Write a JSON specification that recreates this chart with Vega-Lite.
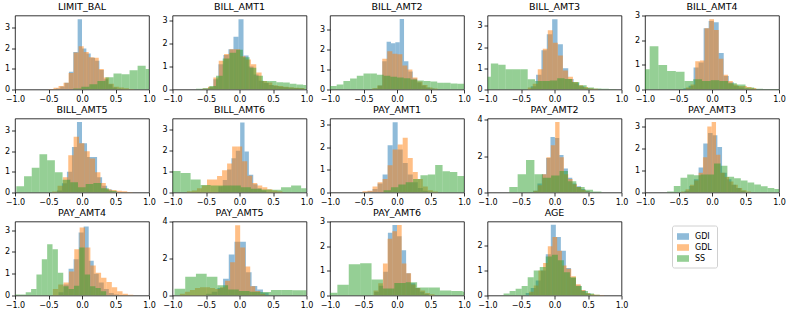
{
"$schema": "https://vega.github.io/schema/vega-lite/v6.json",
"padding": {"left": 4, "top": 1.5, "right": 5, "bottom": 5},
"background": "white",
"columns": 5,
"spacing": {"row": 29, "column": 23.5},
"bounds": "flush",
"data": {"values": [
{"p":1,"s":"GDI","a":-0.39,"b":-0.325,"d":0.05},{"p":1,"s":"GDI","a":-0.325,"b":-0.26,"d":0.15},{"p":1,"s":"GDI","a":-0.26,"b":-0.195,"d":0.33},{"p":1,"s":"GDI","a":-0.195,"b":-0.13,"d":0.86},{"p":1,"s":"GDI","a":-0.13,"b":-0.065,"d":1.82},{"p":1,"s":"GDI","a":-0.065,"b":0,"d":3.42},{"p":1,"s":"GDI","a":0,"b":0.065,"d":2.0},{"p":1,"s":"GDI","a":0.065,"b":0.13,"d":1.75},{"p":1,"s":"GDI","a":0.13,"b":0.195,"d":1.55},{"p":1,"s":"GDI","a":0.195,"b":0.26,"d":1.4},{"p":1,"s":"GDI","a":0.26,"b":0.325,"d":0.95},{"p":1,"s":"GDI","a":0.325,"b":0.39,"d":0.5},{"p":1,"s":"GDI","a":0.39,"b":0.455,"d":0.25},{"p":1,"s":"GDI","a":0.455,"b":0.52,"d":0.1},{"p":1,"s":"GDI","a":0.52,"b":0.585,"d":0.04},
{"p":1,"s":"GDL","a":-0.5,"b":-0.425,"d":0.03},{"p":1,"s":"GDL","a":-0.425,"b":-0.35,"d":0.08},{"p":1,"s":"GDL","a":-0.35,"b":-0.275,"d":0.17},{"p":1,"s":"GDL","a":-0.275,"b":-0.2,"d":0.33},{"p":1,"s":"GDL","a":-0.2,"b":-0.125,"d":0.8},{"p":1,"s":"GDL","a":-0.125,"b":-0.05,"d":1.8},{"p":1,"s":"GDL","a":-0.05,"b":0.025,"d":2.1},{"p":1,"s":"GDL","a":0.025,"b":0.1,"d":1.82},{"p":1,"s":"GDL","a":0.1,"b":0.175,"d":1.57},{"p":1,"s":"GDL","a":0.175,"b":0.25,"d":1.54},{"p":1,"s":"GDL","a":0.25,"b":0.325,"d":1.0},{"p":1,"s":"GDL","a":0.325,"b":0.4,"d":0.58},{"p":1,"s":"GDL","a":0.4,"b":0.475,"d":0.28},{"p":1,"s":"GDL","a":0.475,"b":0.55,"d":0.13},{"p":1,"s":"GDL","a":0.55,"b":0.625,"d":0.1},{"p":1,"s":"GDL","a":0.625,"b":0.7,"d":0.06},{"p":1,"s":"GDL","a":0.7,"b":0.775,"d":0.03},
{"p":1,"s":"SS","a":-0.13,"b":-0.01,"d":0.05},{"p":1,"s":"SS","a":-0.01,"b":0.11,"d":0.13},{"p":1,"s":"SS","a":0.11,"b":0.23,"d":0.25},{"p":1,"s":"SS","a":0.23,"b":0.35,"d":0.41},{"p":1,"s":"SS","a":0.35,"b":0.47,"d":0.6},{"p":1,"s":"SS","a":0.47,"b":0.59,"d":0.78},{"p":1,"s":"SS","a":0.59,"b":0.71,"d":0.74},{"p":1,"s":"SS","a":0.71,"b":0.83,"d":0.94},{"p":1,"s":"SS","a":0.83,"b":0.95,"d":1.16},{"p":1,"s":"SS","a":0.95,"b":1.0,"d":1.0},

{"p":2,"s":"GDI","a":-0.54,"b":-0.465,"d":0.03},{"p":2,"s":"GDI","a":-0.465,"b":-0.39,"d":0.1},{"p":2,"s":"GDI","a":-0.39,"b":-0.315,"d":0.45},{"p":2,"s":"GDI","a":-0.315,"b":-0.24,"d":1.1},{"p":2,"s":"GDI","a":-0.24,"b":-0.165,"d":1.5},{"p":2,"s":"GDI","a":-0.165,"b":-0.09,"d":1.75},{"p":2,"s":"GDI","a":-0.09,"b":-0.015,"d":2.29},{"p":2,"s":"GDI","a":-0.015,"b":0.06,"d":3.06},{"p":2,"s":"GDI","a":0.06,"b":0.135,"d":1.48},{"p":2,"s":"GDI","a":0.135,"b":0.21,"d":1.0},{"p":2,"s":"GDI","a":0.21,"b":0.285,"d":0.65},{"p":2,"s":"GDI","a":0.285,"b":0.36,"d":0.38},{"p":2,"s":"GDI","a":0.36,"b":0.435,"d":0.28},{"p":2,"s":"GDI","a":0.435,"b":0.51,"d":0.2},{"p":2,"s":"GDI","a":0.51,"b":0.585,"d":0.15},{"p":2,"s":"GDI","a":0.585,"b":0.66,"d":0.12},{"p":2,"s":"GDI","a":0.66,"b":0.735,"d":0.1},{"p":2,"s":"GDI","a":0.735,"b":0.81,"d":0.08},{"p":2,"s":"GDI","a":0.81,"b":0.885,"d":0.06},{"p":2,"s":"GDI","a":0.885,"b":0.96,"d":0.05},
{"p":2,"s":"GDL","a":-0.55,"b":-0.47,"d":0.04},{"p":2,"s":"GDL","a":-0.47,"b":-0.39,"d":0.12},{"p":2,"s":"GDL","a":-0.39,"b":-0.31,"d":0.52},{"p":2,"s":"GDL","a":-0.31,"b":-0.23,"d":1.25},{"p":2,"s":"GDL","a":-0.23,"b":-0.15,"d":1.55},{"p":2,"s":"GDL","a":-0.15,"b":-0.07,"d":1.75},{"p":2,"s":"GDL","a":-0.07,"b":0.01,"d":1.75},{"p":2,"s":"GDL","a":0.01,"b":0.09,"d":1.45},{"p":2,"s":"GDL","a":0.09,"b":0.17,"d":1.3},{"p":2,"s":"GDL","a":0.17,"b":0.25,"d":1.1},{"p":2,"s":"GDL","a":0.25,"b":0.33,"d":0.74},{"p":2,"s":"GDL","a":0.33,"b":0.41,"d":0.37},{"p":2,"s":"GDL","a":0.41,"b":0.49,"d":0.3},{"p":2,"s":"GDL","a":0.49,"b":0.57,"d":0.19},{"p":2,"s":"GDL","a":0.57,"b":0.65,"d":0.15},{"p":2,"s":"GDL","a":0.65,"b":0.73,"d":0.12},{"p":2,"s":"GDL","a":0.73,"b":0.81,"d":0.1},{"p":2,"s":"GDL","a":0.81,"b":0.89,"d":0.08},{"p":2,"s":"GDL","a":0.89,"b":0.97,"d":0.06},
{"p":2,"s":"SS","a":-0.65,"b":-0.55,"d":0.03},{"p":2,"s":"SS","a":-0.55,"b":-0.45,"d":0.05},{"p":2,"s":"SS","a":-0.45,"b":-0.35,"d":0.15},{"p":2,"s":"SS","a":-0.35,"b":-0.25,"d":0.6},{"p":2,"s":"SS","a":-0.25,"b":-0.15,"d":1.35},{"p":2,"s":"SS","a":-0.15,"b":-0.05,"d":1.6},{"p":2,"s":"SS","a":-0.05,"b":0.05,"d":1.73},{"p":2,"s":"SS","a":0.05,"b":0.15,"d":1.4},{"p":2,"s":"SS","a":0.15,"b":0.25,"d":0.95},{"p":2,"s":"SS","a":0.25,"b":0.35,"d":0.6},{"p":2,"s":"SS","a":0.35,"b":0.45,"d":0.37},{"p":2,"s":"SS","a":0.45,"b":0.55,"d":0.37},{"p":2,"s":"SS","a":0.55,"b":0.65,"d":0.32},{"p":2,"s":"SS","a":0.65,"b":0.75,"d":0.3},{"p":2,"s":"SS","a":0.75,"b":0.85,"d":0.25},{"p":2,"s":"SS","a":0.85,"b":0.95,"d":0.22},{"p":2,"s":"SS","a":0.95,"b":1.0,"d":0.2},

{"p":3,"s":"GDI","a":-0.35,"b":-0.285,"d":0.05},{"p":3,"s":"GDI","a":-0.285,"b":-0.22,"d":0.2},{"p":3,"s":"GDI","a":-0.22,"b":-0.155,"d":1.4},{"p":3,"s":"GDI","a":-0.155,"b":-0.09,"d":2.37},{"p":3,"s":"GDI","a":-0.09,"b":-0.025,"d":2.3},{"p":3,"s":"GDI","a":-0.025,"b":0.04,"d":2.35},{"p":3,"s":"GDI","a":0.04,"b":0.105,"d":3.5},{"p":3,"s":"GDI","a":0.105,"b":0.17,"d":1.4},{"p":3,"s":"GDI","a":0.17,"b":0.235,"d":0.9},{"p":3,"s":"GDI","a":0.235,"b":0.3,"d":0.55},{"p":3,"s":"GDI","a":0.3,"b":0.365,"d":0.35},{"p":3,"s":"GDI","a":0.365,"b":0.43,"d":0.2},{"p":3,"s":"GDI","a":0.43,"b":0.495,"d":0.1},{"p":3,"s":"GDI","a":0.495,"b":0.56,"d":0.05},
{"p":3,"s":"GDL","a":-0.37,"b":-0.295,"d":0.06},{"p":3,"s":"GDL","a":-0.295,"b":-0.22,"d":0.2},{"p":3,"s":"GDL","a":-0.22,"b":-0.145,"d":1.53},{"p":3,"s":"GDL","a":-0.145,"b":-0.07,"d":1.9},{"p":3,"s":"GDL","a":-0.07,"b":0.005,"d":1.78},{"p":3,"s":"GDL","a":0.005,"b":0.08,"d":1.75},{"p":3,"s":"GDL","a":0.08,"b":0.155,"d":1.19},{"p":3,"s":"GDL","a":0.155,"b":0.23,"d":1.0},{"p":3,"s":"GDL","a":0.23,"b":0.305,"d":0.6},{"p":3,"s":"GDL","a":0.305,"b":0.38,"d":0.4},{"p":3,"s":"GDL","a":0.38,"b":0.455,"d":0.22},{"p":3,"s":"GDL","a":0.455,"b":0.53,"d":0.1},{"p":3,"s":"GDL","a":0.53,"b":0.605,"d":0.05},
{"p":3,"s":"SS","a":-1,"b":-0.9,"d":0.17},{"p":3,"s":"SS","a":-0.9,"b":-0.8,"d":0.25},{"p":3,"s":"SS","a":-0.8,"b":-0.7,"d":0.42},{"p":3,"s":"SS","a":-0.7,"b":-0.6,"d":0.55},{"p":3,"s":"SS","a":-0.6,"b":-0.5,"d":0.68},{"p":3,"s":"SS","a":-0.5,"b":-0.4,"d":0.8},{"p":3,"s":"SS","a":-0.4,"b":-0.3,"d":0.8},{"p":3,"s":"SS","a":-0.3,"b":-0.2,"d":0.73},{"p":3,"s":"SS","a":-0.2,"b":-0.1,"d":0.68},{"p":3,"s":"SS","a":-0.1,"b":0,"d":0.63},{"p":3,"s":"SS","a":0,"b":0.1,"d":0.6},{"p":3,"s":"SS","a":0.1,"b":0.2,"d":0.56},{"p":3,"s":"SS","a":0.2,"b":0.3,"d":0.5},{"p":3,"s":"SS","a":0.3,"b":0.4,"d":0.45},{"p":3,"s":"SS","a":0.4,"b":0.5,"d":0.42},{"p":3,"s":"SS","a":0.5,"b":0.6,"d":0.4},{"p":3,"s":"SS","a":0.6,"b":0.7,"d":0.34},{"p":3,"s":"SS","a":0.7,"b":0.8,"d":0.34},{"p":3,"s":"SS","a":0.8,"b":0.9,"d":0.3},{"p":3,"s":"SS","a":0.9,"b":1.0,"d":0.29},

{"p":4,"s":"GDI","a":-0.355,"b":-0.275,"d":0.15},{"p":4,"s":"GDI","a":-0.275,"b":-0.195,"d":0.7},{"p":4,"s":"GDI","a":-0.195,"b":-0.115,"d":1.85},{"p":4,"s":"GDI","a":-0.115,"b":-0.035,"d":2.6},{"p":4,"s":"GDI","a":-0.035,"b":0.045,"d":3.31},{"p":4,"s":"GDI","a":0.045,"b":0.125,"d":2.13},{"p":4,"s":"GDI","a":0.125,"b":0.205,"d":1.0},{"p":4,"s":"GDI","a":0.205,"b":0.285,"d":0.5},{"p":4,"s":"GDI","a":0.285,"b":0.365,"d":0.3},{"p":4,"s":"GDI","a":0.365,"b":0.445,"d":0.15},{"p":4,"s":"GDI","a":0.445,"b":0.525,"d":0.06},
{"p":4,"s":"GDL","a":-0.4,"b":-0.325,"d":0.1},{"p":4,"s":"GDL","a":-0.325,"b":-0.25,"d":0.27},{"p":4,"s":"GDL","a":-0.25,"b":-0.175,"d":0.96},{"p":4,"s":"GDL","a":-0.175,"b":-0.1,"d":1.92},{"p":4,"s":"GDL","a":-0.1,"b":-0.025,"d":2.8},{"p":4,"s":"GDL","a":-0.025,"b":0.05,"d":2.2},{"p":4,"s":"GDL","a":0.05,"b":0.125,"d":1.6},{"p":4,"s":"GDL","a":0.125,"b":0.2,"d":0.9},{"p":4,"s":"GDL","a":0.2,"b":0.275,"d":0.6},{"p":4,"s":"GDL","a":0.275,"b":0.35,"d":0.35},{"p":4,"s":"GDL","a":0.35,"b":0.425,"d":0.2},{"p":4,"s":"GDL","a":0.425,"b":0.5,"d":0.12},{"p":4,"s":"GDL","a":0.5,"b":0.575,"d":0.06},{"p":4,"s":"GDL","a":0.575,"b":0.65,"d":0.03},
{"p":4,"s":"SS","a":-1,"b":-0.95,"d":0.6},{"p":4,"s":"SS","a":-0.95,"b":-0.84,"d":1.23},{"p":4,"s":"SS","a":-0.84,"b":-0.73,"d":1.17},{"p":4,"s":"SS","a":-0.73,"b":-0.62,"d":0.96},{"p":4,"s":"SS","a":-0.62,"b":-0.51,"d":0.96},{"p":4,"s":"SS","a":-0.51,"b":-0.4,"d":0.96},{"p":4,"s":"SS","a":-0.4,"b":-0.29,"d":0.48},{"p":4,"s":"SS","a":-0.29,"b":-0.18,"d":0.4},{"p":4,"s":"SS","a":-0.18,"b":-0.07,"d":0.4},{"p":4,"s":"SS","a":-0.07,"b":0.04,"d":0.42},{"p":4,"s":"SS","a":0.04,"b":0.15,"d":0.53},{"p":4,"s":"SS","a":0.15,"b":0.26,"d":0.5},{"p":4,"s":"SS","a":0.26,"b":0.37,"d":0.35},{"p":4,"s":"SS","a":0.37,"b":0.48,"d":0.2},{"p":4,"s":"SS","a":0.48,"b":0.59,"d":0.09},{"p":4,"s":"SS","a":0.59,"b":0.7,"d":0.05},{"p":4,"s":"SS","a":0.7,"b":0.81,"d":0.03},{"p":4,"s":"SS","a":0.81,"b":0.92,"d":0.02},

{"p":5,"s":"GDI","a":-0.425,"b":-0.35,"d":0.05},{"p":5,"s":"GDI","a":-0.35,"b":-0.275,"d":0.15},{"p":5,"s":"GDI","a":-0.275,"b":-0.2,"d":0.9},{"p":5,"s":"GDI","a":-0.2,"b":-0.125,"d":1.1},{"p":5,"s":"GDI","a":-0.125,"b":-0.05,"d":2.5},{"p":5,"s":"GDI","a":-0.05,"b":0.025,"d":2.8},{"p":5,"s":"GDI","a":0.025,"b":0.1,"d":2.74},{"p":5,"s":"GDI","a":0.1,"b":0.175,"d":1.49},{"p":5,"s":"GDI","a":0.175,"b":0.25,"d":0.55},{"p":5,"s":"GDI","a":0.25,"b":0.325,"d":0.3},{"p":5,"s":"GDI","a":0.325,"b":0.4,"d":0.15},{"p":5,"s":"GDI","a":0.4,"b":0.475,"d":0.08},{"p":5,"s":"GDI","a":0.475,"b":0.55,"d":0.04},
{"p":5,"s":"GDL","a":-0.39,"b":-0.32,"d":0.08},{"p":5,"s":"GDL","a":-0.32,"b":-0.25,"d":0.2},{"p":5,"s":"GDL","a":-0.25,"b":-0.18,"d":1.15},{"p":5,"s":"GDL","a":-0.18,"b":-0.11,"d":1.18},{"p":5,"s":"GDL","a":-0.11,"b":-0.04,"d":2.5},{"p":5,"s":"GDL","a":-0.04,"b":0.03,"d":2.87},{"p":5,"s":"GDL","a":0.03,"b":0.1,"d":2.43},{"p":5,"s":"GDL","a":0.1,"b":0.17,"d":1.25},{"p":5,"s":"GDL","a":0.17,"b":0.24,"d":0.6},{"p":5,"s":"GDL","a":0.24,"b":0.31,"d":0.35},{"p":5,"s":"GDL","a":0.31,"b":0.38,"d":0.2},{"p":5,"s":"GDL","a":0.38,"b":0.45,"d":0.14},{"p":5,"s":"GDL","a":0.45,"b":0.52,"d":0.14},{"p":5,"s":"GDL","a":0.52,"b":0.59,"d":0.1},{"p":5,"s":"GDL","a":0.59,"b":0.66,"d":0.06},
{"p":5,"s":"SS","a":-1,"b":-0.93,"d":0.83},{"p":5,"s":"SS","a":-0.93,"b":-0.8,"d":1.76},{"p":5,"s":"SS","a":-0.8,"b":-0.67,"d":1.0},{"p":5,"s":"SS","a":-0.67,"b":-0.54,"d":0.76},{"p":5,"s":"SS","a":-0.54,"b":-0.41,"d":0.72},{"p":5,"s":"SS","a":-0.41,"b":-0.28,"d":0.35},{"p":5,"s":"SS","a":-0.28,"b":-0.15,"d":0.42},{"p":5,"s":"SS","a":-0.15,"b":-0.02,"d":0.35},{"p":5,"s":"SS","a":-0.02,"b":0.11,"d":0.38},{"p":5,"s":"SS","a":0.11,"b":0.24,"d":0.35},{"p":5,"s":"SS","a":0.24,"b":0.37,"d":0.26},{"p":5,"s":"SS","a":0.37,"b":0.5,"d":0.2},{"p":5,"s":"SS","a":0.5,"b":0.63,"d":0.08},{"p":5,"s":"SS","a":0.63,"b":0.76,"d":0.03},{"p":5,"s":"SS","a":0.76,"b":0.89,"d":0.02},{"p":5,"s":"SS","a":0.89,"b":1.0,"d":0.02},

{"p":6,"s":"GDI","a":-0.375,"b":-0.3,"d":0.1},{"p":6,"s":"GDI","a":-0.3,"b":-0.225,"d":0.45},{"p":6,"s":"GDI","a":-0.225,"b":-0.15,"d":1.0},{"p":6,"s":"GDI","a":-0.15,"b":-0.075,"d":2.2},{"p":6,"s":"GDI","a":-0.075,"b":0,"d":3.41},{"p":6,"s":"GDI","a":0,"b":0.075,"d":2.38},{"p":6,"s":"GDI","a":0.075,"b":0.15,"d":1.72},{"p":6,"s":"GDI","a":0.15,"b":0.225,"d":1.72},{"p":6,"s":"GDI","a":0.225,"b":0.3,"d":0.74},{"p":6,"s":"GDI","a":0.3,"b":0.375,"d":0.33},{"p":6,"s":"GDI","a":0.375,"b":0.45,"d":0.15},{"p":6,"s":"GDI","a":0.45,"b":0.525,"d":0.06},
{"p":6,"s":"GDL","a":-0.445,"b":-0.365,"d":0.05},{"p":6,"s":"GDL","a":-0.365,"b":-0.285,"d":0.33},{"p":6,"s":"GDL","a":-0.285,"b":-0.205,"d":0.74},{"p":6,"s":"GDL","a":-0.205,"b":-0.125,"d":1.8},{"p":6,"s":"GDL","a":-0.125,"b":-0.045,"d":2.7},{"p":6,"s":"GDL","a":-0.045,"b":0.035,"d":2.38},{"p":6,"s":"GDL","a":0.035,"b":0.115,"d":2.0},{"p":6,"s":"GDL","a":0.115,"b":0.195,"d":1.64},{"p":6,"s":"GDL","a":0.195,"b":0.275,"d":0.98},{"p":6,"s":"GDL","a":0.275,"b":0.355,"d":0.46},{"p":6,"s":"GDL","a":0.355,"b":0.435,"d":0.16},{"p":6,"s":"GDL","a":0.435,"b":0.515,"d":0.12},{"p":6,"s":"GDL","a":0.515,"b":0.595,"d":0.08},{"p":6,"s":"GDL","a":0.595,"b":0.675,"d":0.06},{"p":6,"s":"GDL","a":0.675,"b":0.755,"d":0.03},
{"p":6,"s":"SS","a":-0.98,"b":-0.865,"d":0.3},{"p":6,"s":"SS","a":-0.865,"b":-0.75,"d":0.79},{"p":6,"s":"SS","a":-0.75,"b":-0.635,"d":1.2},{"p":6,"s":"SS","a":-0.635,"b":-0.52,"d":1.85},{"p":6,"s":"SS","a":-0.52,"b":-0.405,"d":1.56},{"p":6,"s":"SS","a":-0.405,"b":-0.29,"d":0.98},{"p":6,"s":"SS","a":-0.29,"b":-0.175,"d":0.62},{"p":6,"s":"SS","a":-0.175,"b":-0.06,"d":0.49},{"p":6,"s":"SS","a":-0.06,"b":0.055,"d":0.25},{"p":6,"s":"SS","a":0.055,"b":0.17,"d":0.41},{"p":6,"s":"SS","a":0.17,"b":0.285,"d":0.46},{"p":6,"s":"SS","a":0.285,"b":0.4,"d":0.2},{"p":6,"s":"SS","a":0.4,"b":0.515,"d":0.08},

{"p":7,"s":"GDI","a":-0.315,"b":-0.25,"d":0.3},{"p":7,"s":"GDI","a":-0.25,"b":-0.185,"d":0.6},{"p":7,"s":"GDI","a":-0.185,"b":-0.12,"d":1.1},{"p":7,"s":"GDI","a":-0.12,"b":-0.055,"d":1.64},{"p":7,"s":"GDI","a":-0.055,"b":0.01,"d":2.0},{"p":7,"s":"GDI","a":0.01,"b":0.075,"d":3.36},{"p":7,"s":"GDI","a":0.075,"b":0.14,"d":1.97},{"p":7,"s":"GDI","a":0.14,"b":0.205,"d":0.85},{"p":7,"s":"GDI","a":0.205,"b":0.27,"d":0.4},{"p":7,"s":"GDI","a":0.27,"b":0.335,"d":0.2},{"p":7,"s":"GDI","a":0.335,"b":0.4,"d":0.1},
{"p":7,"s":"GDL","a":-0.785,"b":-0.71,"d":0.06},{"p":7,"s":"GDL","a":-0.71,"b":-0.635,"d":0.1},{"p":7,"s":"GDL","a":-0.635,"b":-0.56,"d":0.2},{"p":7,"s":"GDL","a":-0.56,"b":-0.485,"d":0.33},{"p":7,"s":"GDL","a":-0.485,"b":-0.41,"d":0.62},{"p":7,"s":"GDL","a":-0.41,"b":-0.335,"d":0.62},{"p":7,"s":"GDL","a":-0.335,"b":-0.26,"d":0.79},{"p":7,"s":"GDL","a":-0.26,"b":-0.185,"d":1.07},{"p":7,"s":"GDL","a":-0.185,"b":-0.11,"d":1.39},{"p":7,"s":"GDL","a":-0.11,"b":-0.035,"d":2.21},{"p":7,"s":"GDL","a":-0.035,"b":0.04,"d":2.21},{"p":7,"s":"GDL","a":0.04,"b":0.115,"d":1.5},{"p":7,"s":"GDL","a":0.115,"b":0.19,"d":0.8},{"p":7,"s":"GDL","a":0.19,"b":0.265,"d":0.46},{"p":7,"s":"GDL","a":0.265,"b":0.34,"d":0.33},{"p":7,"s":"GDL","a":0.34,"b":0.415,"d":0.25},{"p":7,"s":"GDL","a":0.415,"b":0.49,"d":0.16},{"p":7,"s":"GDL","a":0.49,"b":0.565,"d":0.1},{"p":7,"s":"GDL","a":0.565,"b":0.64,"d":0.06},
{"p":7,"s":"SS","a":-1,"b":-0.88,"d":1.03},{"p":7,"s":"SS","a":-0.88,"b":-0.73,"d":0.93},{"p":7,"s":"SS","a":-0.73,"b":-0.58,"d":0.62},{"p":7,"s":"SS","a":-0.58,"b":-0.43,"d":0.36},{"p":7,"s":"SS","a":-0.43,"b":-0.28,"d":0.33},{"p":7,"s":"SS","a":-0.28,"b":-0.13,"d":0.33},{"p":7,"s":"SS","a":-0.13,"b":0.02,"d":0.33},{"p":7,"s":"SS","a":0.02,"b":0.17,"d":0.25},{"p":7,"s":"SS","a":0.17,"b":0.32,"d":0.18},{"p":7,"s":"SS","a":0.32,"b":0.47,"d":0.14},{"p":7,"s":"SS","a":0.47,"b":0.62,"d":0.13},{"p":7,"s":"SS","a":0.62,"b":0.77,"d":0.25},{"p":7,"s":"SS","a":0.77,"b":0.92,"d":0.33},{"p":7,"s":"SS","a":0.92,"b":1.0,"d":0.2},

{"p":8,"s":"GDI","a":-0.44,"b":-0.365,"d":0.05},{"p":8,"s":"GDI","a":-0.365,"b":-0.29,"d":0.15},{"p":8,"s":"GDI","a":-0.29,"b":-0.215,"d":0.4},{"p":8,"s":"GDI","a":-0.215,"b":-0.14,"d":0.79},{"p":8,"s":"GDI","a":-0.14,"b":-0.065,"d":2.09},{"p":8,"s":"GDI","a":-0.065,"b":0.01,"d":3.1},{"p":8,"s":"GDI","a":0.01,"b":0.085,"d":1.9},{"p":8,"s":"GDI","a":0.085,"b":0.16,"d":1.3},{"p":8,"s":"GDI","a":0.16,"b":0.235,"d":0.8},{"p":8,"s":"GDI","a":0.235,"b":0.31,"d":0.45},{"p":8,"s":"GDI","a":0.31,"b":0.385,"d":0.2},{"p":8,"s":"GDI","a":0.385,"b":0.46,"d":0.08},{"p":8,"s":"GDI","a":0.46,"b":0.535,"d":0.03},
{"p":8,"s":"GDL","a":-0.515,"b":-0.44,"d":0.05},{"p":8,"s":"GDL","a":-0.44,"b":-0.365,"d":0.08},{"p":8,"s":"GDL","a":-0.365,"b":-0.29,"d":0.26},{"p":8,"s":"GDL","a":-0.29,"b":-0.215,"d":0.45},{"p":8,"s":"GDL","a":-0.215,"b":-0.14,"d":0.6},{"p":8,"s":"GDL","a":-0.14,"b":-0.065,"d":1.2},{"p":8,"s":"GDL","a":-0.065,"b":0.01,"d":1.9},{"p":8,"s":"GDL","a":0.01,"b":0.085,"d":2.12},{"p":8,"s":"GDL","a":0.085,"b":0.16,"d":2.42},{"p":8,"s":"GDL","a":0.16,"b":0.235,"d":1.52},{"p":8,"s":"GDL","a":0.235,"b":0.31,"d":0.91},{"p":8,"s":"GDL","a":0.31,"b":0.385,"d":0.6},{"p":8,"s":"GDL","a":0.385,"b":0.46,"d":0.26},{"p":8,"s":"GDL","a":0.46,"b":0.535,"d":0.1},{"p":8,"s":"GDL","a":0.535,"b":0.61,"d":0.04},
{"p":8,"s":"SS","a":-0.2,"b":-0.09,"d":0.1},{"p":8,"s":"SS","a":-0.09,"b":0.02,"d":0.23},{"p":8,"s":"SS","a":0.02,"b":0.13,"d":0.35},{"p":8,"s":"SS","a":0.13,"b":0.24,"d":0.45},{"p":8,"s":"SS","a":0.24,"b":0.35,"d":0.6},{"p":8,"s":"SS","a":0.35,"b":0.46,"d":0.76},{"p":8,"s":"SS","a":0.46,"b":0.57,"d":0.79},{"p":8,"s":"SS","a":0.57,"b":0.68,"d":1.21},{"p":8,"s":"SS","a":0.68,"b":0.79,"d":0.94},{"p":8,"s":"SS","a":0.79,"b":0.9,"d":0.91},{"p":8,"s":"SS","a":0.9,"b":1.0,"d":0.73},

{"p":9,"s":"GDI","a":-0.32,"b":-0.255,"d":0.1},{"p":9,"s":"GDI","a":-0.255,"b":-0.19,"d":0.5},{"p":9,"s":"GDI","a":-0.19,"b":-0.125,"d":1.0},{"p":9,"s":"GDI","a":-0.125,"b":-0.06,"d":1.9},{"p":9,"s":"GDI","a":-0.06,"b":0.005,"d":3.06},{"p":9,"s":"GDI","a":0.005,"b":0.07,"d":3.0},{"p":9,"s":"GDI","a":0.07,"b":0.135,"d":2.07},{"p":9,"s":"GDI","a":0.135,"b":0.2,"d":1.32},{"p":9,"s":"GDI","a":0.2,"b":0.265,"d":0.81},{"p":9,"s":"GDI","a":0.265,"b":0.33,"d":0.49},{"p":9,"s":"GDI","a":0.33,"b":0.395,"d":0.34},{"p":9,"s":"GDI","a":0.395,"b":0.46,"d":0.19},{"p":9,"s":"GDI","a":0.46,"b":0.525,"d":0.08},
{"p":9,"s":"GDL","a":-0.315,"b":-0.25,"d":0.1},{"p":9,"s":"GDL","a":-0.25,"b":-0.185,"d":0.4},{"p":9,"s":"GDL","a":-0.185,"b":-0.12,"d":1.0},{"p":9,"s":"GDL","a":-0.12,"b":-0.055,"d":1.94},{"p":9,"s":"GDL","a":-0.055,"b":0.01,"d":2.6},{"p":9,"s":"GDL","a":0.01,"b":0.075,"d":3.89},{"p":9,"s":"GDL","a":0.075,"b":0.14,"d":1.94},{"p":9,"s":"GDL","a":0.14,"b":0.205,"d":1.0},{"p":9,"s":"GDL","a":0.205,"b":0.27,"d":0.75},{"p":9,"s":"GDL","a":0.27,"b":0.335,"d":0.45},{"p":9,"s":"GDL","a":0.335,"b":0.4,"d":0.3},{"p":9,"s":"GDL","a":0.4,"b":0.465,"d":0.15},{"p":9,"s":"GDL","a":0.465,"b":0.53,"d":0.06},
{"p":9,"s":"SS","a":-0.675,"b":-0.55,"d":0.3},{"p":9,"s":"SS","a":-0.55,"b":-0.425,"d":1.0},{"p":9,"s":"SS","a":-0.425,"b":-0.3,"d":1.79},{"p":9,"s":"SS","a":-0.3,"b":-0.175,"d":1.0},{"p":9,"s":"SS","a":-0.175,"b":-0.05,"d":0.81},{"p":9,"s":"SS","a":-0.05,"b":0.075,"d":0.94},{"p":9,"s":"SS","a":0.075,"b":0.2,"d":1.19},{"p":9,"s":"SS","a":0.2,"b":0.325,"d":0.62},{"p":9,"s":"SS","a":0.325,"b":0.45,"d":0.3},{"p":9,"s":"SS","a":0.45,"b":0.575,"d":0.15},{"p":9,"s":"SS","a":0.575,"b":0.7,"d":0.06},

{"p":10,"s":"GDI","a":-0.41,"b":-0.34,"d":0.08},{"p":10,"s":"GDI","a":-0.34,"b":-0.27,"d":0.3},{"p":10,"s":"GDI","a":-0.27,"b":-0.2,"d":0.6},{"p":10,"s":"GDI","a":-0.2,"b":-0.13,"d":1.13},{"p":10,"s":"GDI","a":-0.13,"b":-0.06,"d":2.22},{"p":10,"s":"GDI","a":-0.06,"b":0.01,"d":2.7},{"p":10,"s":"GDI","a":0.01,"b":0.08,"d":2.6},{"p":10,"s":"GDI","a":0.08,"b":0.15,"d":2.07},{"p":10,"s":"GDI","a":0.15,"b":0.22,"d":0.9},{"p":10,"s":"GDI","a":0.22,"b":0.29,"d":0.6},{"p":10,"s":"GDI","a":0.29,"b":0.36,"d":0.35},{"p":10,"s":"GDI","a":0.36,"b":0.43,"d":0.2},{"p":10,"s":"GDI","a":0.43,"b":0.5,"d":0.08},
{"p":10,"s":"GDL","a":-0.46,"b":-0.395,"d":0.05},{"p":10,"s":"GDL","a":-0.395,"b":-0.33,"d":0.15},{"p":10,"s":"GDL","a":-0.33,"b":-0.265,"d":0.35},{"p":10,"s":"GDL","a":-0.265,"b":-0.2,"d":0.55},{"p":10,"s":"GDL","a":-0.2,"b":-0.135,"d":0.9},{"p":10,"s":"GDL","a":-0.135,"b":-0.07,"d":1.6},{"p":10,"s":"GDL","a":-0.07,"b":-0.005,"d":3.0},{"p":10,"s":"GDL","a":-0.005,"b":0.06,"d":3.2},{"p":10,"s":"GDL","a":0.06,"b":0.125,"d":1.71},{"p":10,"s":"GDL","a":0.125,"b":0.19,"d":0.9},{"p":10,"s":"GDL","a":0.19,"b":0.255,"d":0.7},{"p":10,"s":"GDL","a":0.255,"b":0.32,"d":0.5},{"p":10,"s":"GDL","a":0.32,"b":0.385,"d":0.35},{"p":10,"s":"GDL","a":0.385,"b":0.45,"d":0.2},{"p":10,"s":"GDL","a":0.45,"b":0.515,"d":0.1},{"p":10,"s":"GDL","a":0.515,"b":0.58,"d":0.05},
{"p":10,"s":"SS","a":-0.67,"b":-0.57,"d":0.05},{"p":10,"s":"SS","a":-0.57,"b":-0.47,"d":0.3},{"p":10,"s":"SS","a":-0.47,"b":-0.37,"d":0.67},{"p":10,"s":"SS","a":-0.37,"b":-0.27,"d":0.82},{"p":10,"s":"SS","a":-0.27,"b":-0.17,"d":0.78},{"p":10,"s":"SS","a":-0.17,"b":-0.07,"d":0.82},{"p":10,"s":"SS","a":-0.07,"b":0.03,"d":0.82},{"p":10,"s":"SS","a":0.03,"b":0.13,"d":1.32},{"p":10,"s":"SS","a":0.13,"b":0.23,"d":1.21},{"p":10,"s":"SS","a":0.23,"b":0.33,"d":0.72},{"p":10,"s":"SS","a":0.33,"b":0.43,"d":0.65},{"p":10,"s":"SS","a":0.43,"b":0.53,"d":0.55},{"p":10,"s":"SS","a":0.53,"b":0.63,"d":0.45},{"p":10,"s":"SS","a":0.63,"b":0.73,"d":0.36},{"p":10,"s":"SS","a":0.73,"b":0.83,"d":0.28},{"p":10,"s":"SS","a":0.83,"b":0.93,"d":0.2},{"p":10,"s":"SS","a":0.93,"b":1.0,"d":0.16},

{"p":11,"s":"GDI","a":-0.35,"b":-0.275,"d":0.15},{"p":11,"s":"GDI","a":-0.275,"b":-0.2,"d":0.5},{"p":11,"s":"GDI","a":-0.2,"b":-0.125,"d":1.23},{"p":11,"s":"GDI","a":-0.125,"b":-0.05,"d":1.66},{"p":11,"s":"GDI","a":-0.05,"b":0.025,"d":2.9},{"p":11,"s":"GDI","a":0.025,"b":0.1,"d":3.17},{"p":11,"s":"GDI","a":0.1,"b":0.175,"d":1.6},{"p":11,"s":"GDI","a":0.175,"b":0.25,"d":1.0},{"p":11,"s":"GDI","a":0.25,"b":0.325,"d":0.6},{"p":11,"s":"GDI","a":0.325,"b":0.4,"d":0.3},{"p":11,"s":"GDI","a":0.4,"b":0.475,"d":0.12},{"p":11,"s":"GDI","a":0.475,"b":0.55,"d":0.05},
{"p":11,"s":"GDL","a":-0.435,"b":-0.355,"d":0.3},{"p":11,"s":"GDL","a":-0.355,"b":-0.275,"d":0.5},{"p":11,"s":"GDL","a":-0.275,"b":-0.195,"d":0.6},{"p":11,"s":"GDL","a":-0.195,"b":-0.115,"d":1.1},{"p":11,"s":"GDL","a":-0.115,"b":-0.035,"d":2.12},{"p":11,"s":"GDL","a":-0.035,"b":0.045,"d":3.12},{"p":11,"s":"GDL","a":0.045,"b":0.125,"d":2.2},{"p":11,"s":"GDL","a":0.125,"b":0.205,"d":1.38},{"p":11,"s":"GDL","a":0.205,"b":0.285,"d":1.05},{"p":11,"s":"GDL","a":0.285,"b":0.365,"d":0.82},{"p":11,"s":"GDL","a":0.365,"b":0.445,"d":0.62},{"p":11,"s":"GDL","a":0.445,"b":0.525,"d":0.38},{"p":11,"s":"GDL","a":0.525,"b":0.605,"d":0.2},{"p":11,"s":"GDL","a":0.605,"b":0.685,"d":0.08},{"p":11,"s":"GDL","a":0.685,"b":0.765,"d":0.03},
{"p":11,"s":"SS","a":-1,"b":-0.92,"d":0.05},{"p":11,"s":"SS","a":-0.92,"b":-0.84,"d":0.05},{"p":11,"s":"SS","a":-0.84,"b":-0.76,"d":0.15},{"p":11,"s":"SS","a":-0.76,"b":-0.68,"d":0.3},{"p":11,"s":"SS","a":-0.68,"b":-0.6,"d":0.97},{"p":11,"s":"SS","a":-0.6,"b":-0.52,"d":1.66},{"p":11,"s":"SS","a":-0.52,"b":-0.44,"d":2.35},{"p":11,"s":"SS","a":-0.44,"b":-0.36,"d":2.12},{"p":11,"s":"SS","a":-0.36,"b":-0.28,"d":1.05},{"p":11,"s":"SS","a":-0.28,"b":-0.2,"d":0.43},{"p":11,"s":"SS","a":-0.2,"b":-0.12,"d":0.3},{"p":11,"s":"SS","a":-0.12,"b":-0.04,"d":0.45},{"p":11,"s":"SS","a":-0.04,"b":0.04,"d":2.2},{"p":11,"s":"SS","a":0.04,"b":0.12,"d":0.97},{"p":11,"s":"SS","a":0.12,"b":0.2,"d":0.43},{"p":11,"s":"SS","a":0.2,"b":0.28,"d":0.35},{"p":11,"s":"SS","a":0.28,"b":0.36,"d":0.2},

{"p":12,"s":"GDI","a":-0.5,"b":-0.415,"d":0.1},{"p":12,"s":"GDI","a":-0.415,"b":-0.33,"d":0.2},{"p":12,"s":"GDI","a":-0.33,"b":-0.245,"d":0.4},{"p":12,"s":"GDI","a":-0.245,"b":-0.16,"d":0.9},{"p":12,"s":"GDI","a":-0.16,"b":-0.075,"d":2.22},{"p":12,"s":"GDI","a":-0.075,"b":0.01,"d":2.9},{"p":12,"s":"GDI","a":0.01,"b":0.095,"d":2.9},{"p":12,"s":"GDI","a":0.095,"b":0.18,"d":1.26},{"p":12,"s":"GDI","a":0.18,"b":0.265,"d":0.52},{"p":12,"s":"GDI","a":0.265,"b":0.35,"d":0.33},{"p":12,"s":"GDI","a":0.35,"b":0.435,"d":0.15},
{"p":12,"s":"GDL","a":-0.89,"b":-0.815,"d":0.1},{"p":12,"s":"GDL","a":-0.815,"b":-0.74,"d":0.2},{"p":12,"s":"GDL","a":-0.74,"b":-0.665,"d":0.3},{"p":12,"s":"GDL","a":-0.665,"b":-0.59,"d":0.4},{"p":12,"s":"GDL","a":-0.59,"b":-0.515,"d":0.45},{"p":12,"s":"GDL","a":-0.515,"b":-0.44,"d":0.45},{"p":12,"s":"GDL","a":-0.44,"b":-0.365,"d":0.4},{"p":12,"s":"GDL","a":-0.365,"b":-0.29,"d":0.35},{"p":12,"s":"GDL","a":-0.29,"b":-0.215,"d":0.45},{"p":12,"s":"GDL","a":-0.215,"b":-0.14,"d":0.8},{"p":12,"s":"GDL","a":-0.14,"b":-0.065,"d":1.8},{"p":12,"s":"GDL","a":-0.065,"b":0.01,"d":3.8},{"p":12,"s":"GDL","a":0.01,"b":0.085,"d":2.6},{"p":12,"s":"GDL","a":0.085,"b":0.16,"d":1.57},{"p":12,"s":"GDL","a":0.16,"b":0.235,"d":0.5},{"p":12,"s":"GDL","a":0.235,"b":0.31,"d":0.25},{"p":12,"s":"GDL","a":0.31,"b":0.385,"d":0.1},
{"p":12,"s":"SS","a":-0.97,"b":-0.81,"d":0.37},{"p":12,"s":"SS","a":-0.81,"b":-0.65,"d":1.02},{"p":12,"s":"SS","a":-0.65,"b":-0.49,"d":1.17},{"p":12,"s":"SS","a":-0.49,"b":-0.33,"d":1.02},{"p":12,"s":"SS","a":-0.33,"b":-0.17,"d":0.56},{"p":12,"s":"SS","a":-0.17,"b":-0.01,"d":0.33},{"p":12,"s":"SS","a":-0.01,"b":0.15,"d":0.24},{"p":12,"s":"SS","a":0.15,"b":0.31,"d":0.2},{"p":12,"s":"SS","a":0.31,"b":0.47,"d":0.19},{"p":12,"s":"SS","a":0.47,"b":0.63,"d":0.3},{"p":12,"s":"SS","a":0.63,"b":0.79,"d":0.3},{"p":12,"s":"SS","a":0.79,"b":0.95,"d":0.28},{"p":12,"s":"SS","a":0.95,"b":1.0,"d":0.28},

{"p":13,"s":"GDI","a":-0.34,"b":-0.272,"d":0.15},{"p":13,"s":"GDI","a":-0.272,"b":-0.204,"d":0.4},{"p":13,"s":"GDI","a":-0.204,"b":-0.136,"d":0.96},{"p":13,"s":"GDI","a":-0.136,"b":-0.068,"d":2.54},{"p":13,"s":"GDI","a":-0.068,"b":0,"d":2.86},{"p":13,"s":"GDI","a":0,"b":0.068,"d":2.4},{"p":13,"s":"GDI","a":0.068,"b":0.136,"d":1.83},{"p":13,"s":"GDI","a":0.136,"b":0.204,"d":0.9},{"p":13,"s":"GDI","a":0.204,"b":0.272,"d":0.5},{"p":13,"s":"GDI","a":0.272,"b":0.34,"d":0.3},{"p":13,"s":"GDI","a":0.34,"b":0.408,"d":0.15},{"p":13,"s":"GDI","a":0.408,"b":0.476,"d":0.06},
{"p":13,"s":"GDL","a":-0.35,"b":-0.28,"d":0.2},{"p":13,"s":"GDL","a":-0.28,"b":-0.21,"d":0.5},{"p":13,"s":"GDL","a":-0.21,"b":-0.14,"d":1.3},{"p":13,"s":"GDL","a":-0.14,"b":-0.07,"d":2.3},{"p":13,"s":"GDL","a":-0.07,"b":0,"d":2.6},{"p":13,"s":"GDL","a":0,"b":0.07,"d":2.86},{"p":13,"s":"GDL","a":0.07,"b":0.14,"d":1.3},{"p":13,"s":"GDL","a":0.14,"b":0.21,"d":0.9},{"p":13,"s":"GDL","a":0.21,"b":0.28,"d":0.45},{"p":13,"s":"GDL","a":0.28,"b":0.35,"d":0.3},{"p":13,"s":"GDL","a":0.35,"b":0.42,"d":0.2},{"p":13,"s":"GDL","a":0.42,"b":0.49,"d":0.1},{"p":13,"s":"GDL","a":0.49,"b":0.56,"d":0.05},
{"p":13,"s":"SS","a":-1,"b":-0.89,"d":0.11},{"p":13,"s":"SS","a":-0.89,"b":-0.72,"d":0.44},{"p":13,"s":"SS","a":-0.72,"b":-0.55,"d":1.27},{"p":13,"s":"SS","a":-0.55,"b":-0.38,"d":1.31},{"p":13,"s":"SS","a":-0.38,"b":-0.21,"d":0.65},{"p":13,"s":"SS","a":-0.21,"b":-0.04,"d":0.28},{"p":13,"s":"SS","a":-0.04,"b":0.13,"d":0.51},{"p":13,"s":"SS","a":0.13,"b":0.3,"d":0.54},{"p":13,"s":"SS","a":0.3,"b":0.47,"d":0.32},{"p":13,"s":"SS","a":0.47,"b":0.64,"d":0.32},{"p":13,"s":"SS","a":0.64,"b":0.81,"d":0.2},{"p":13,"s":"SS","a":0.81,"b":0.98,"d":0.18},{"p":13,"s":"SS","a":0.98,"b":1.0,"d":0.15},

{"p":14,"s":"GDI","a":-0.43,"b":-0.355,"d":0.1},{"p":14,"s":"GDI","a":-0.355,"b":-0.28,"d":0.3},{"p":14,"s":"GDI","a":-0.28,"b":-0.205,"d":0.6},{"p":14,"s":"GDI","a":-0.205,"b":-0.13,"d":1.0},{"p":14,"s":"GDI","a":-0.13,"b":-0.055,"d":1.64},{"p":14,"s":"GDI","a":-0.055,"b":0.02,"d":2.82},{"p":14,"s":"GDI","a":0.02,"b":0.095,"d":2.33},{"p":14,"s":"GDI","a":0.095,"b":0.17,"d":1.78},{"p":14,"s":"GDI","a":0.17,"b":0.245,"d":1.1},{"p":14,"s":"GDI","a":0.245,"b":0.32,"d":0.7},{"p":14,"s":"GDI","a":0.32,"b":0.395,"d":0.4},{"p":14,"s":"GDI","a":0.395,"b":0.47,"d":0.2},{"p":14,"s":"GDI","a":0.47,"b":0.545,"d":0.08},
{"p":14,"s":"GDL","a":-0.38,"b":-0.31,"d":0.15},{"p":14,"s":"GDL","a":-0.31,"b":-0.24,"d":0.4},{"p":14,"s":"GDL","a":-0.24,"b":-0.17,"d":1.0},{"p":14,"s":"GDL","a":-0.17,"b":-0.1,"d":1.3},{"p":14,"s":"GDL","a":-0.1,"b":-0.03,"d":1.96},{"p":14,"s":"GDL","a":-0.03,"b":0.04,"d":2.33},{"p":14,"s":"GDL","a":0.04,"b":0.11,"d":1.78},{"p":14,"s":"GDL","a":0.11,"b":0.18,"d":1.2},{"p":14,"s":"GDL","a":0.18,"b":0.25,"d":1.07},{"p":14,"s":"GDL","a":0.25,"b":0.32,"d":0.77},{"p":14,"s":"GDL","a":0.32,"b":0.39,"d":0.45},{"p":14,"s":"GDL","a":0.39,"b":0.46,"d":0.22},{"p":14,"s":"GDL","a":0.46,"b":0.53,"d":0.1},{"p":14,"s":"GDL","a":0.53,"b":0.6,"d":0.05},{"p":14,"s":"GDL","a":0.6,"b":0.67,"d":0.03},{"p":14,"s":"GDL","a":0.67,"b":0.74,"d":0.02},
{"p":14,"s":"SS","a":-0.76,"b":-0.67,"d":0.08},{"p":14,"s":"SS","a":-0.67,"b":-0.58,"d":0.18},{"p":14,"s":"SS","a":-0.58,"b":-0.49,"d":0.27},{"p":14,"s":"SS","a":-0.49,"b":-0.4,"d":0.38},{"p":14,"s":"SS","a":-0.4,"b":-0.31,"d":0.73},{"p":14,"s":"SS","a":-0.31,"b":-0.22,"d":1.0},{"p":14,"s":"SS","a":-0.22,"b":-0.13,"d":1.14},{"p":14,"s":"SS","a":-0.13,"b":-0.04,"d":1.55},{"p":14,"s":"SS","a":-0.04,"b":0.05,"d":1.62},{"p":14,"s":"SS","a":0.05,"b":0.14,"d":1.41},{"p":14,"s":"SS","a":0.14,"b":0.23,"d":0.93},{"p":14,"s":"SS","a":0.23,"b":0.32,"d":0.73},{"p":14,"s":"SS","a":0.32,"b":0.41,"d":0.38},{"p":14,"s":"SS","a":0.41,"b":0.5,"d":0.18},{"p":14,"s":"SS","a":0.5,"b":0.59,"d":0.08},{"p":14,"s":"SS","a":0.59,"b":0.68,"d":0.03}
]},
"concat": [
{"title":"LIMIT_BAL","width":134,"height":74,"transform":[{"filter":"datum.p==1"}],"mark":{"type":"rect","opacity":0.5,"clip":true},"encoding":{"x":{"field":"a","type":"quantitative","scale":{"domain":[-1,1],"nice":false,"padding":0},"axis":{"values":[-1,-0.5,0,0.5,1],"format":".1f","title":null}},"x2":{"field":"b"},"y":{"field":"d","type":"quantitative","stack":null,"scale":{"domain":[0,3.6],"nice":false,"padding":0},"axis":{"title":null}},"y2":{"datum":0},"color":{"field":"s","type":"nominal","scale":{"domain":["GDI","GDL","SS"],"range":["#1f77b4","#ff7f0e","#2ca02c"]},"legend":{"title":null,"orient":"none","legendX":657,"legendY":210}}}},
{"title":"BILL_AMT1","width":134,"height":74,"transform":[{"filter":"datum.p==2"}],"mark":{"type":"rect","opacity":0.5,"clip":true},"encoding":{"x":{"field":"a","type":"quantitative","scale":{"domain":[-1,1],"nice":false,"padding":0},"axis":{"values":[-1,-0.5,0,0.5,1],"format":".1f","title":null}},"x2":{"field":"b"},"y":{"field":"d","type":"quantitative","stack":null,"scale":{"domain":[0,3.22],"nice":false,"padding":0},"axis":{"title":null}},"y2":{"datum":0},"color":{"field":"s","type":"nominal","scale":{"domain":["GDI","GDL","SS"],"range":["#1f77b4","#ff7f0e","#2ca02c"]},"legend":{"title":null,"orient":"none","legendX":657,"legendY":210}}}},
{"title":"BILL_AMT2","width":134,"height":74,"transform":[{"filter":"datum.p==3"}],"mark":{"type":"rect","opacity":0.5,"clip":true},"encoding":{"x":{"field":"a","type":"quantitative","scale":{"domain":[-1,1],"nice":false,"padding":0},"axis":{"values":[-1,-0.5,0,0.5,1],"format":".1f","title":null}},"x2":{"field":"b"},"y":{"field":"d","type":"quantitative","stack":null,"scale":{"domain":[0,3.68],"nice":false,"padding":0},"axis":{"title":null}},"y2":{"datum":0},"color":{"field":"s","type":"nominal","scale":{"domain":["GDI","GDL","SS"],"range":["#1f77b4","#ff7f0e","#2ca02c"]},"legend":{"title":null,"orient":"none","legendX":657,"legendY":210}}}},
{"title":"BILL_AMT3","width":134,"height":74,"transform":[{"filter":"datum.p==4"}],"mark":{"type":"rect","opacity":0.5,"clip":true},"encoding":{"x":{"field":"a","type":"quantitative","scale":{"domain":[-1,1],"nice":false,"padding":0},"axis":{"values":[-1,-0.5,0,0.5,1],"format":".1f","title":null}},"x2":{"field":"b"},"y":{"field":"d","type":"quantitative","stack":null,"scale":{"domain":[0,3.49],"nice":false,"padding":0},"axis":{"title":null}},"y2":{"datum":0},"color":{"field":"s","type":"nominal","scale":{"domain":["GDI","GDL","SS"],"range":["#1f77b4","#ff7f0e","#2ca02c"]},"legend":{"title":null,"orient":"none","legendX":657,"legendY":210}}}},
{"title":{"text":"BILL_AMT4","offset":0.5},"width":134,"height":74,"transform":[{"filter":"datum.p==5"}],"mark":{"type":"rect","opacity":0.5,"clip":true},"encoding":{"x":{"field":"a","type":"quantitative","scale":{"domain":[-1,1],"nice":false,"padding":0},"axis":{"values":[-1,-0.5,0,0.5,1],"format":".1f","title":null}},"x2":{"field":"b"},"y":{"field":"d","type":"quantitative","stack":null,"scale":{"domain":[0,3.02],"nice":false,"padding":0},"axis":{"title":null}},"y2":{"datum":0},"color":{"field":"s","type":"nominal","scale":{"domain":["GDI","GDL","SS"],"range":["#1f77b4","#ff7f0e","#2ca02c"]},"legend":{"title":null,"orient":"none","legendX":657,"legendY":210}}}},
{"title":"BILL_AMT5","width":134,"height":74,"transform":[{"filter":"datum.p==6"}],"mark":{"type":"rect","opacity":0.5,"clip":true},"encoding":{"x":{"field":"a","type":"quantitative","scale":{"domain":[-1,1],"nice":false,"padding":0},"axis":{"values":[-1,-0.5,0,0.5,1],"format":".1f","title":null}},"x2":{"field":"b"},"y":{"field":"d","type":"quantitative","stack":null,"scale":{"domain":[0,3.58],"nice":false,"padding":0},"axis":{"title":null}},"y2":{"datum":0},"color":{"field":"s","type":"nominal","scale":{"domain":["GDI","GDL","SS"],"range":["#1f77b4","#ff7f0e","#2ca02c"]},"legend":{"title":null,"orient":"none","legendX":657,"legendY":210}}}},
{"title":"BILL_AMT6","width":134,"height":74,"transform":[{"filter":"datum.p==7"}],"mark":{"type":"rect","opacity":0.5,"clip":true},"encoding":{"x":{"field":"a","type":"quantitative","scale":{"domain":[-1,1],"nice":false,"padding":0},"axis":{"values":[-1,-0.5,0,0.5,1],"format":".1f","title":null}},"x2":{"field":"b"},"y":{"field":"d","type":"quantitative","stack":null,"scale":{"domain":[0,3.55],"nice":false,"padding":0},"axis":{"title":null}},"y2":{"datum":0},"color":{"field":"s","type":"nominal","scale":{"domain":["GDI","GDL","SS"],"range":["#1f77b4","#ff7f0e","#2ca02c"]},"legend":{"title":null,"orient":"none","legendX":657,"legendY":210}}}},
{"title":"PAY_AMT1","width":134,"height":74,"transform":[{"filter":"datum.p==8"}],"mark":{"type":"rect","opacity":0.5,"clip":true},"encoding":{"x":{"field":"a","type":"quantitative","scale":{"domain":[-1,1],"nice":false,"padding":0},"axis":{"values":[-1,-0.5,0,0.5,1],"format":".1f","title":null}},"x2":{"field":"b"},"y":{"field":"d","type":"quantitative","stack":null,"scale":{"domain":[0,3.27],"nice":false,"padding":0},"axis":{"title":null}},"y2":{"datum":0},"color":{"field":"s","type":"nominal","scale":{"domain":["GDI","GDL","SS"],"range":["#1f77b4","#ff7f0e","#2ca02c"]},"legend":{"title":null,"orient":"none","legendX":657,"legendY":210}}}},
{"title":{"text":"PAY_AMT2","offset":1.5},"width":134,"height":74,"transform":[{"filter":"datum.p==9"}],"mark":{"type":"rect","opacity":0.5,"clip":true},"encoding":{"x":{"field":"a","type":"quantitative","scale":{"domain":[-1,1],"nice":false,"padding":0},"axis":{"values":[-1,-0.5,0,0.5,1],"format":".1f","title":null}},"x2":{"field":"b"},"y":{"field":"d","type":"quantitative","stack":null,"scale":{"domain":[0,4.08],"nice":false,"padding":0},"axis":{"title":null,"values":[0,2,4]}},"y2":{"datum":0},"color":{"field":"s","type":"nominal","scale":{"domain":["GDI","GDL","SS"],"range":["#1f77b4","#ff7f0e","#2ca02c"]},"legend":{"title":null,"orient":"none","legendX":657,"legendY":210}}}},
{"title":"PAY_AMT3","width":134,"height":74,"transform":[{"filter":"datum.p==10"}],"mark":{"type":"rect","opacity":0.5,"clip":true},"encoding":{"x":{"field":"a","type":"quantitative","scale":{"domain":[-1,1],"nice":false,"padding":0},"axis":{"values":[-1,-0.5,0,0.5,1],"format":".1f","title":null}},"x2":{"field":"b"},"y":{"field":"d","type":"quantitative","stack":null,"scale":{"domain":[0,3.36],"nice":false,"padding":0},"axis":{"title":null}},"y2":{"datum":0},"color":{"field":"s","type":"nominal","scale":{"domain":["GDI","GDL","SS"],"range":["#1f77b4","#ff7f0e","#2ca02c"]},"legend":{"title":null,"orient":"none","legendX":657,"legendY":210}}}},
{"title":"PAY_AMT4","width":134,"height":74,"transform":[{"filter":"datum.p==11"}],"mark":{"type":"rect","opacity":0.5,"clip":true},"encoding":{"x":{"field":"a","type":"quantitative","scale":{"domain":[-1,1],"nice":false,"padding":0},"axis":{"values":[-1,-0.5,0,0.5,1],"format":".1f","title":null}},"x2":{"field":"b"},"y":{"field":"d","type":"quantitative","stack":null,"scale":{"domain":[0,3.4],"nice":false,"padding":0},"axis":{"title":null}},"y2":{"datum":0},"color":{"field":"s","type":"nominal","scale":{"domain":["GDI","GDL","SS"],"range":["#1f77b4","#ff7f0e","#2ca02c"]},"legend":{"title":null,"orient":"none","legendX":657,"legendY":210}}}},
{"title":{"text":"PAY_AMT5","offset":0},"width":134,"height":74,"transform":[{"filter":"datum.p==12"}],"mark":{"type":"rect","opacity":0.5,"clip":true},"encoding":{"x":{"field":"a","type":"quantitative","scale":{"domain":[-1,1],"nice":false,"padding":0},"axis":{"values":[-1,-0.5,0,0.5,1],"format":".1f","title":null}},"x2":{"field":"b"},"y":{"field":"d","type":"quantitative","stack":null,"scale":{"domain":[0,4.0],"nice":false,"padding":0},"axis":{"title":null,"values":[0,2,4]}},"y2":{"datum":0},"color":{"field":"s","type":"nominal","scale":{"domain":["GDI","GDL","SS"],"range":["#1f77b4","#ff7f0e","#2ca02c"]},"legend":{"title":null,"orient":"none","legendX":657,"legendY":210}}}},
{"title":{"text":"PAY_AMT6","offset":0},"width":134,"height":74,"transform":[{"filter":"datum.p==13"}],"mark":{"type":"rect","opacity":0.5,"clip":true},"encoding":{"x":{"field":"a","type":"quantitative","scale":{"domain":[-1,1],"nice":false,"padding":0},"axis":{"values":[-1,-0.5,0,0.5,1],"format":".1f","title":null}},"x2":{"field":"b"},"y":{"field":"d","type":"quantitative","stack":null,"scale":{"domain":[0,3.0],"nice":false,"padding":0},"axis":{"title":null}},"y2":{"datum":0},"color":{"field":"s","type":"nominal","scale":{"domain":["GDI","GDL","SS"],"range":["#1f77b4","#ff7f0e","#2ca02c"]},"legend":{"title":null,"orient":"none","legendX":657,"legendY":210}}}},
{"title":"AGE","width":134,"height":74,"transform":[{"filter":"datum.p==14"}],"mark":{"type":"rect","opacity":0.5,"clip":true},"encoding":{"x":{"field":"a","type":"quantitative","scale":{"domain":[-1,1],"nice":false,"padding":0},"axis":{"values":[-1,-0.5,0,0.5,1],"format":".1f","title":null}},"x2":{"field":"b"},"y":{"field":"d","type":"quantitative","stack":null,"scale":{"domain":[0,2.95],"nice":false,"padding":0},"axis":{"title":null}},"y2":{"datum":0},"color":{"field":"s","type":"nominal","scale":{"domain":["GDI","GDL","SS"],"range":["#1f77b4","#ff7f0e","#2ca02c"]},"legend":{"title":null,"orient":"none","legendX":657,"legendY":210}}}}
],
"config": {
"font": "DejaVu Sans",
"view": {"stroke": "#000", "strokeWidth": 0.8},
"scale": {"continuousPadding": 0},
"axis": {"grid": false, "domain": false, "tickSize": 3.5, "tickColor": "#000", "tickWidth": 0.8, "labelFontSize": 8, "labelColor": "#000", "labelPadding": 2, "labelFlush": false, "labelOverlap": false},
"axisY": {"tickCount": 4, "tickMinStep": 1},
"title": {"fontSize": 9.5, "fontWeight": "normal", "offset": 4, "anchor": "middle", "color": "#000"},
"legend": {"symbolType": "M-1,-0.55H1V0.55H-1Z", "symbolSize": 144, "symbolOpacity": 0.5, "symbolStrokeWidth": 0, "labelFontSize": 8, "labelColor": "#000", "strokeColor": "#d0d0d0", "fillColor": "#fff", "padding": 5, "cornerRadius": 2, "rowPadding": 1, "labelOffset": 6}
}
}
